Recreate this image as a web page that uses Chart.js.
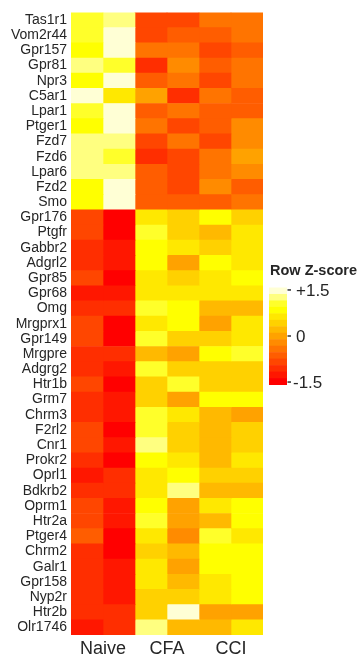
<!DOCTYPE html>
<html><head><meta charset="utf-8">
<script src="https://cdn.jsdelivr.net/npm/chart.js@4.4.1/dist/chart.umd.min.js"></script>
<style>html,body{margin:0;padding:0;background:#fff;}canvas{display:block;}</style>
</head><body>
<canvas id="c" width="359" height="657"></canvas>
<script>
const genes = ['Tas1r1','Vom2r44','Gpr157','Gpr81','Npr3','C5ar1','Lpar1','Ptger1','Fzd7','Fzd6','Lpar6','Fzd2','Smo',
  'Gpr176','Ptgfr','Gabbr2','Adgrl2','Gpr85','Gpr68','Omg','Mrgprx1','Gpr149','Mrgpre','Adgrg2','Htr1b','Grm7','Chrm3',
  'F2rl2','Cnr1','Prokr2','Oprl1','Bdkrb2','Oprm1','Htr2a','Ptger4','Chrm2','Galr1','Gpr158','Nyp2r','Htr2b','Olr1746'];
const groups = ['Naive','CFA','CCI'];

// Row Z-scores, one array per sample column
const naive1 = [1.0,1.0,0.8,1.2,0.8,1.4,1.0,0.8,1.2,1.2,1.2,0.8,0.8,
  -0.8,-0.8,-1.0,-1.0,-0.8,-1.2,-1.0,-0.8,-0.8,-1.0,-1.0,-0.8,-1.0,-1.0,-0.8,-0.8,-1.0,-1.2,-1.0,-0.8,-0.8,-0.6,-1.0,-1.0,-1.0,-1.0,-1.0,-1.2];
const naive2 = [1.2,1.4,1.4,1.0,1.4,0.6,1.4,1.4,1.2,1.0,1.2,1.4,1.4,
  -1.4,-1.4,-1.2,-1.2,-1.4,-1.2,-1.0,-1.4,-1.4,-1.0,-1.2,-1.4,-1.2,-1.2,-1.4,-1.2,-1.4,-1.0,-1.0,-1.2,-1.2,-1.4,-1.4,-1.2,-1.2,-1.2,-1.0,-1.0];
const cfa1 = [-0.8,-0.8,-0.4,-1.0,-0.6,0.0,-0.6,-0.4,-0.8,-1.0,-0.6,-0.6,-0.6,
  0.6,1.0,0.8,0.8,0.6,0.6,1.0,0.6,1.0,0.2,1.0,0.4,0.4,1.0,1.0,1.2,0.8,0.6,0.6,0.8,1.0,0.6,0.4,0.6,0.6,0.4,0.4,1.2];
const cfa2 = [-0.8,-0.6,-0.4,-0.2,-0.4,-1.0,-0.4,-0.8,-0.4,-0.8,-0.8,-0.8,-0.6,
  0.4,0.4,0.6,0.0,0.4,0.6,0.8,0.8,0.4,0.0,0.4,1.0,0.0,0.6,0.4,0.4,0.6,0.8,1.2,0.0,0.0,-0.2,0.2,0.0,0.2,0.4,1.4,0.2];
const cci1 = [-0.4,-0.6,-0.8,-0.6,-0.8,-0.4,-0.6,-0.6,-0.8,-0.4,-0.4,-0.2,-0.6,
  0.8,0.2,0.4,0.8,0.6,0.6,0.2,0.0,0.4,0.8,0.4,0.4,0.8,0.2,0.2,0.2,0.2,0.4,0.2,0.6,0.2,1.0,0.8,0.8,0.6,0.6,0.0,0.2];
const cci2 = [-0.4,-0.4,-0.6,-0.4,-0.4,-0.6,-0.6,-0.2,-0.2,0.0,-0.2,-0.6,-0.4,
  0.4,0.6,0.6,0.6,0.8,0.6,0.2,0.6,0.6,1.0,0.4,0.4,0.8,0.0,0.4,0.4,0.6,0.4,0.2,0.8,0.8,0.6,0.8,0.8,0.8,0.8,0.0,0.6];

const keyTitle = 'Row Z-score';
const keyTicks = [1.5, 0, -1.5];
const keyTickLabels = ['+1.5', '0', '-1.5'];

// heat colour palette (low -> high) and bin range
const heatColors = ['#FF0000','#FF1700','#FF2E00','#FF4600','#FF5D00','#FF7400','#FF8B00','#FFA200',
  '#FFB900','#FFD100','#FFE800','#FFFF00','#FFFF2A','#FFFF80','#FFFFD5'];
const zMin = -1.5, zMax = 1.5;
function colorFor(z) {
  const n = heatColors.length;
  let k = Math.floor((z - zMin) / (zMax - zMin) * n + 1e-9);
  k = Math.max(0, Math.min(n - 1, k));
  return heatColors[k];
}

const columns = [naive1, naive2, cfa1, cfa2, cci1, cci2];
const FONT = '"Liberation Sans", Arial, Helvetica, sans-serif';
const TEXT = '#262626';
Chart.defaults.font.family = FONT;

const keyPlugin = {
  id: 'colorKey',
  afterDraw(chart) {
    const ctx = chart.ctx;
    ctx.save();
    ctx.fillStyle = TEXT;
    ctx.textBaseline = 'middle';
    ctx.textAlign = 'left';
    ctx.font = 'bold 14.5px ' + FONT;
    ctx.fillText(keyTitle, 270, 271);
    const n = heatColors.length;
    const top = 287.5, bottom = 384.5, x0 = 269, w = 18;
    const h = (bottom - top) / n;
    for (let i = 0; i < n; i++) {
      ctx.fillStyle = heatColors[n - 1 - i];
      ctx.fillRect(x0, top + i * h, w, h + 0.5);
    }
    const mid = (top + bottom) / 2;
    const per = (bottom - top) / 3.16;
    ctx.font = '17px ' + FONT;
    ctx.strokeStyle = '#333';
    ctx.lineWidth = 1.5;
    keyTicks.forEach((v, i) => {
      const y = mid - v * per;
      ctx.beginPath();
      ctx.moveTo(287.5, y); ctx.lineTo(291, y);
      ctx.stroke();
      ctx.fillStyle = TEXT;
      const lbl = keyTickLabels[i];
      ctx.fillText(lbl, lbl.startsWith('-') ? 293 : 296, y + 1);
    });
    ctx.restore();
  }
};

new Chart(document.getElementById('c'), {
  type: 'bar',
  data: {
    labels: genes,
    datasets: columns.map((vals, c) => ({
      data: vals.map(() => [c, c + 1]),
      backgroundColor: vals.map(colorFor),
      borderWidth: 0,
      grouped: false,
      barPercentage: 1,
      categoryPercentage: 1
    }))
  },
  options: {
    indexAxis: 'y',
    responsive: false,
    animation: false,
    layout: { padding: { top: 12, right: 96, left: 0, bottom: 0 } },
    plugins: { legend: { display: false }, tooltip: { enabled: false } },
    scales: {
      y: {
        type: 'category',
        grid: { display: false, drawTicks: false },
        border: { display: false },
        ticks: { autoSkip: false, padding: 4, color: TEXT, font: { size: 14 } },
        afterFit(s) { s.width = 71; }
      },
      x: {
        type: 'linear', min: 0, max: 6,
        grid: { display: false, drawTicks: false },
        border: { display: false },
        afterBuildTicks(s) { s.ticks = groups.map((g, i) => ({ value: 2 * i + 1 })); },
        ticks: {
          autoSkip: false, maxRotation: 0, padding: 3, color: TEXT, font: { size: 18 },
          callback: (v) => groups[(v - 1) / 2]
        },
        afterFit(s) { s.height = 22; }
      }
    }
  },
  plugins: [keyPlugin]
});
</script>
</body></html>
